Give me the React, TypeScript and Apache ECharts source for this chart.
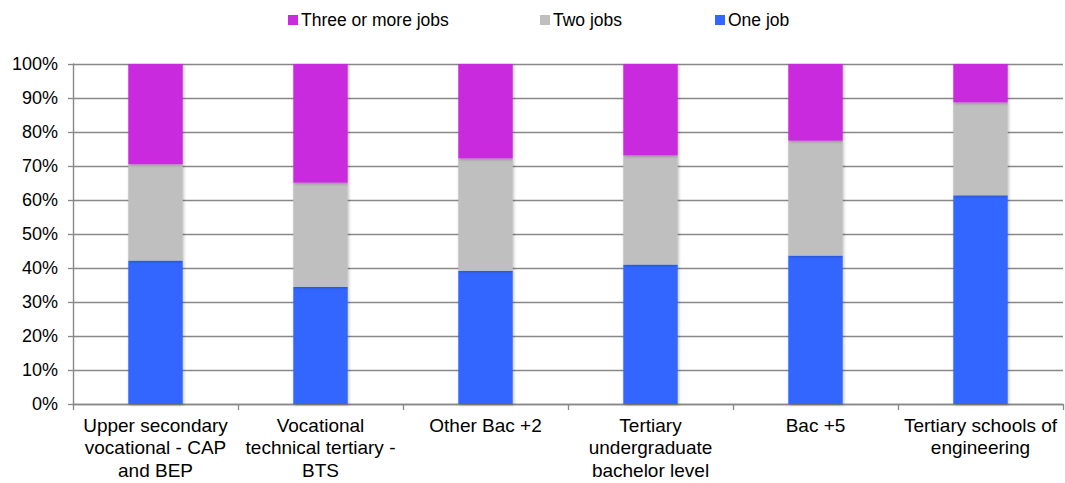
import React, { useEffect, useRef } from "react";
import * as echarts from "echarts";

const categories = [
  "Upper secondary\nvocational - CAP\nand BEP",
  "Vocational\ntechnical tertiary -\nBTS",
  "Other Bac +2",
  "Tertiary\nundergraduate\nbachelor level",
  "Bac +5",
  "Tertiary schools of\nengineering",
];
const oneJob = [42.2, 34.5, 39.2, 41.0, 43.7, 61.4];
const twoJobs = [28.3, 30.6, 33.0, 32.1, 33.7, 27.3];
const threeOrMore = [29.5, 34.9, 27.8, 26.9, 22.6, 11.3];
const yTicks = [0, 10, 20, 30, 40, 50, 60, 70, 80, 90, 100];

const FONT = "'Liberation Sans', Arial, sans-serif";

export default function App() {
  const ref = useRef<HTMLDivElement>(null);
  useEffect(() => {
    document.body.style.margin = "0";
    const chart = echarts.init(ref.current!, undefined, { renderer: "svg" });
    const legendBase = {
      top: 6,
      itemWidth: 10,
      itemHeight: 10,
      itemGap: 4,
      icon: "rect",
      textStyle: { fontFamily: FONT, fontSize: 17.5, color: "#000", padding: [0, 0, 0, -2] },
    };
    const shadow = { shadowColor: "rgba(0,0,0,0.25)", shadowBlur: 3, shadowOffsetX: 1, shadowOffsetY: 1 };
    chart.setOption({
      animation: false,
      legend: [
        { ...legendBase, left: 283, data: ["Three or more jobs"] },
        { ...legendBase, left: 535, data: ["Two jobs"] },
        { ...legendBase, left: 710, data: ["One job"] },
      ],
      grid: { left: 73, right: 2, top: 64, bottom: 79, containLabel: false },
      xAxis: {
        type: "category",
        data: categories,
        axisLine: { lineStyle: { color: "#888", width: 1.4 } },
        axisTick: { show: true, length: 6, alignWithLabel: false, lineStyle: { color: "#888", width: 1.3 } },
        axisLabel: {
          fontFamily: FONT,
          fontSize: 19,
          color: "#000",
          lineHeight: 22.5,
          margin: 10,
          interval: 0,
        },
      },
      yAxis: {
        type: "value",
        min: yTicks[0],
        max: yTicks[yTicks.length - 1],
        interval: 10,
        axisLine: { show: true, lineStyle: { color: "#888", width: 1.4 } },
        axisTick: { show: true, length: 5, lineStyle: { color: "#888", width: 1.3 } },
        splitLine: { show: true, lineStyle: { color: "#888", width: 1.4 } },
        axisLabel: {
          fontFamily: FONT,
          fontSize: 18,
          color: "#000",
          margin: 15,
          formatter: "{value}%",
        },
      },
      series: [
        {
          name: "One job",
          type: "bar",
          stack: "total",
          barWidth: "33%",
          data: oneJob,
          itemStyle: { color: "#3366FF", ...shadow },
        },
        {
          name: "Two jobs",
          type: "bar",
          stack: "total",
          data: twoJobs,
          itemStyle: { color: "#BFBFBF", ...shadow },
        },
        {
          name: "Three or more jobs",
          type: "bar",
          stack: "total",
          data: threeOrMore,
          itemStyle: { color: "#C92BDD", ...shadow },
        },
      ],
    });
    return () => chart.dispose();
  }, []);
  return (
    <div
      ref={ref}
      style={{ position: "absolute", left: 0, top: 0, width: 1065, height: 483, background: "#fff" }}
    />
  );
}
